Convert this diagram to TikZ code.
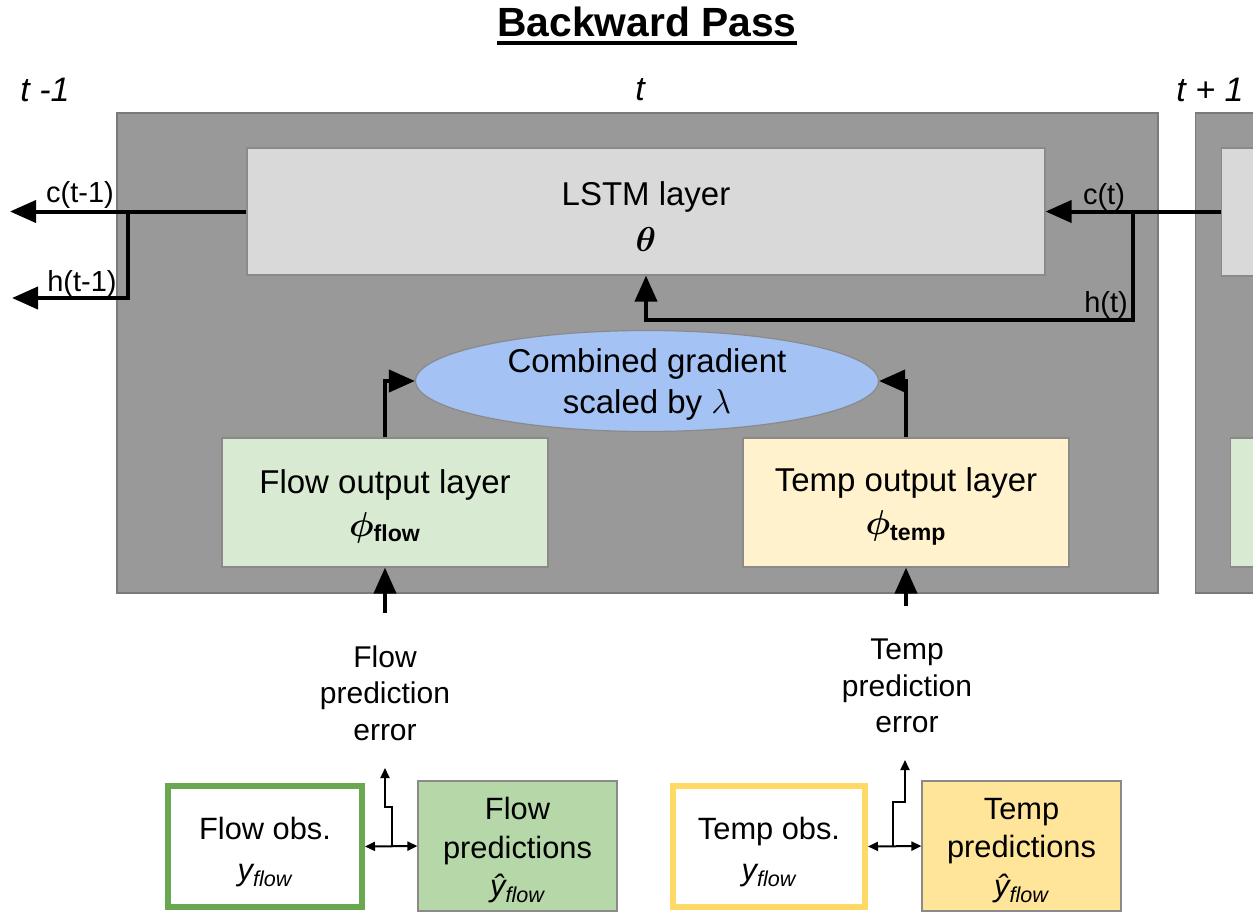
\documentclass[tikz,border=0pt]{standalone}
\usepackage{amsmath}
\usepackage{fontspec}
\setmainfont{Liberation Sans}
\usetikzlibrary{arrows.meta,shapes.geometric}
\definecolor{bggray}{HTML}{999999}
\definecolor{bgedge}{HTML}{7a7a7a}
\definecolor{lstmfill}{HTML}{D9D9D9}
\definecolor{boxedge}{HTML}{8a8a8a}
\definecolor{ellfill}{HTML}{A4C2F4}
\definecolor{flowfill}{HTML}{D9EAD3}
\definecolor{tempfill}{HTML}{FFF2CC}
\definecolor{flowedge}{HTML}{6AA84F}
\definecolor{flowpredfill}{HTML}{B6D7A8}
\definecolor{tempedge}{HTML}{FFD966}
\definecolor{temppredfill}{HTML}{FFE599}
\newcommand{\bigsym}[1]{{\fontsize{18}{20}\selectfont$\boldsymbol{#1}$}}
\begin{document}
\begin{tikzpicture}[x=0.5pt,y=-0.5pt,
  mainfont/.style={font=\fontsize{16.5}{20}\selectfont},
  labfont/.style={font=\fontsize{14.5}{17}\selectfont},
  errfont/.style={font=\fontsize{15}{18.25}\selectfont, align=center},
  boxfont/.style={font=\fontsize{15.4}{19.25}\selectfont, align=center},
  tfont/.style={font=\fontsize{17}{20}\selectfont\itshape},
  layerbox/.style={draw=boxedge, line width=0.6pt, inner sep=0pt, align=center, mainfont},
  bigarrow/.style={line width=2pt, -{Triangle[length=13pt,width=11pt]}},
  smallarrow/.style={line width=1pt, -{Triangle[length=5pt,width=4.5pt]}},
  dblarrow/.style={line width=1pt, {Triangle[length=5pt,width=4.5pt]}-{Triangle[length=5pt,width=4.5pt]}},
]
\clip (0,0) rectangle (1253,916);
\fill[white] (0,0) rectangle (1253,916);

% title
\node[font=\fontsize{20.4}{24}\selectfont\bfseries, inner sep=0pt] (title) at (647,22) {Backward Pass};
\draw[line width=1.6pt] ([yshift=-3.2pt]title.base west) -- ([yshift=-3.2pt]title.base east);

% time labels
\node[tfont] (tm1) at (45,90) {t -1};
\node[tfont] (tt) at (640,90) {t};
\node[tfont] (tp1) at (1210,90) {t + 1};

% background panels
\node[draw=bgedge, fill=bggray, line width=0.6pt, minimum width=520.5pt, minimum height=240pt, inner sep=0pt] (panel) at (637.5,353) {};
\node[draw=bgedge, fill=bggray, line width=0.6pt, minimum width=40pt, minimum height=240pt, inner sep=0pt, anchor=west] (panelR) at (1195,353) {};
\node[draw=boxedge, fill=lstmfill, line width=0.6pt, minimum width=30pt, minimum height=64pt, inner sep=0pt, anchor=west] (lstmR) at (1221,212) {};
\node[draw=boxedge, fill=flowfill, line width=0.6pt, minimum width=30pt, minimum height=64.5pt, inner sep=0pt, anchor=west] (flowR) at (1230,502.5) {};

% LSTM layer
\node[layerbox, fill=lstmfill, minimum width=399pt, minimum height=63.5pt] (lstm) at (646,211.5) {};
\node[mainfont, align=center, inner sep=0pt] (lstmtxt) at (646,216.5)
  {LSTM layer\\[3pt]\bigsym{\theta}};

% ellipse
\node[ellipse, draw=boxedge, fill=ellfill, line width=0.6pt, inner sep=0pt, minimum width=231.5pt, minimum height=50.5pt] (ell) at (647,381) {};
\node[align=center, inner sep=0pt, font=\fontsize{16.5}{20.5}\selectfont] (elltxt) at (647,384.5)
  {Combined gradient\\scaled by $\lambda$};

% output layers
\node[layerbox, fill=flowfill, minimum width=163pt, minimum height=64.5pt] (flowout) at (385,502.5) {};
\node[mainfont, align=center, inner sep=0pt] (flowtxt) at (385,506.5)
  {Flow output layer\\[1.5pt]\bigsym{\phi}\textsubscript{\bfseries flow}};
\node[layerbox, fill=tempfill, minimum width=163pt, minimum height=64.5pt] (tempout) at (906,502.5) {};
\node[mainfont, align=center, inner sep=0pt] (temptxt) at (906,506.5)
  {Temp output layer\\[1.5pt]\bigsym{\phi}\textsubscript{\bfseries temp}};

% state labels
\node[labfont] (lc1) at (80,195) {c(t-1)};
\node[labfont] (lh1) at (82,284) {h(t-1)};
\node[labfont] (lc) at (1104,197) {c(t)};
\node[labfont] (lh) at (1106,305) {h(t)};

% state connectors
\coordinate (cm1end) at (10,211.5);
\coordinate (hm1end) at (12,298);
\coordinate (br1) at (128,211.5);
\coordinate (br1b) at (128,298);
\draw[bigarrow] (lstm.west) -- (cm1end);
\draw[bigarrow, line join=miter] (br1) -- (br1b) -- (hm1end);
\coordinate (cin) at (1221,211.5);
\coordinate (br2) at (1133,211.5);
\coordinate (hcorner) at (646,320);
\draw[bigarrow] (cin) -- (lstm.east);
\draw[bigarrow, line join=miter] (br2) |- (hcorner) -- (lstm.south);

% to ellipse
\draw[bigarrow, line join=miter] (flowout.north) |- (ell.west);
\draw[bigarrow, line join=miter] (tempout.north) |- (ell.east);

% prediction errors
\node[errfont] (flowerr) at (385,693) {Flow\\prediction\\error};
\node[errfont] (temperr) at (907,686) {Temp\\prediction\\error};
\coordinate (fe) at (385,613);
\coordinate (te) at (906,606);
\draw[bigarrow] (fe) -- (flowout.south);
\draw[bigarrow] (te) -- (tempout.south);

% bottom boxes
\node[draw=flowedge, line width=3pt, fill=white, minimum width=97pt, minimum height=60.5pt, inner sep=0pt] (flowobs) at (265,846.5) {};
\node[boxfont, inner sep=0pt] (flowobstxt) at (265,852)
  {Flow obs.\\[1.5pt]{\itshape y\textsubscript{flow}}};
\node[draw=boxedge, line width=0.6pt, fill=flowpredfill, minimum width=99.5pt, minimum height=65pt, inner sep=0pt] (flowpred) at (517.5,846) {};
\node[boxfont, inner sep=0pt] (flowpredtxt) at (517.5,850.5)
  {Flow\\predictions\\{\itshape ŷ\textsubscript{flow}}};
\node[draw=tempedge, line width=3pt, fill=white, minimum width=96pt, minimum height=60.5pt, inner sep=0pt] (tempobs) at (769,846.5) {};
\node[boxfont, inner sep=0pt] (tempobstxt) at (769,852)
  {Temp obs.\\[1.5pt]{\itshape y\textsubscript{flow}}};
\node[draw=boxedge, line width=0.6pt, fill=temppredfill, minimum width=99.5pt, minimum height=65pt, inner sep=0pt] (temppred) at (1021.5,846) {};
\node[boxfont, inner sep=0pt] (temppredtxt) at (1021.5,850.5)
  {Temp\\predictions\\{\itshape ŷ\textsubscript{flow}}};

% comparison arrows
\draw[dblarrow] (flowobs.east) -- (flowpred.west);
\draw[dblarrow] (tempobs.east) -- (temppred.west);
\coordinate (fj0) at (392,846);
\coordinate (fj1) at (392,807);
\coordinate (fj2) at (385,807);
\coordinate (fj3) at (385,768);
\draw[smallarrow] (fj0) -- (fj1) -- (fj2) -- (fj3);
\coordinate (tj0) at (893,846);
\coordinate (tj1) at (893,802);
\coordinate (tj2) at (905,802);
\coordinate (tj3) at (905,760);
\draw[smallarrow] (tj0) -- (tj1) -- (tj2) -- (tj3);
\end{tikzpicture}
\end{document}
